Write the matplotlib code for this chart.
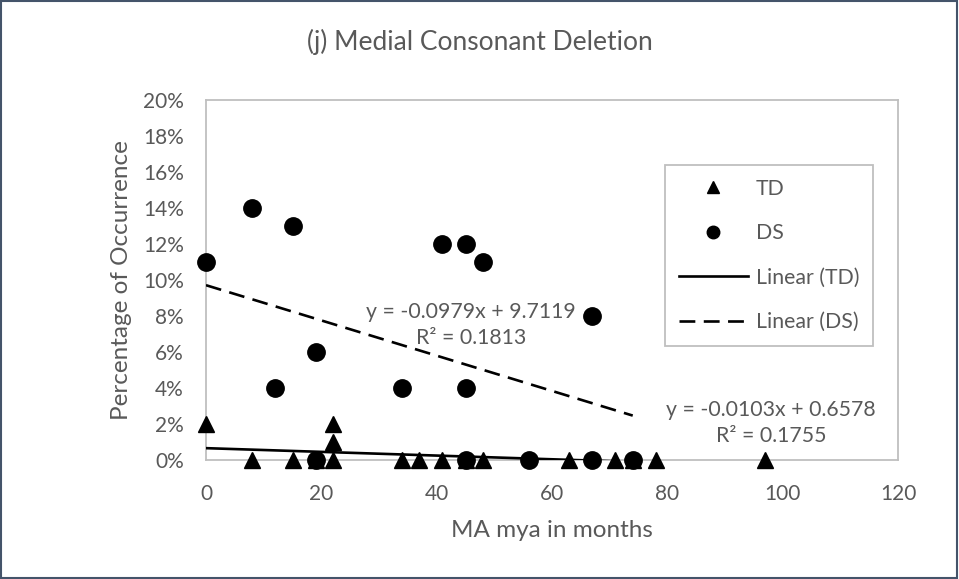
import numpy as np
import matplotlib
matplotlib.use("Agg")
import matplotlib.pyplot as plt
from matplotlib.lines import Line2D
from matplotlib.patches import Rectangle

plt.rcParams['font.family'] = ['Lato', 'DejaVu Sans']

# age in months vs. % occurrence, per group
td_x = [0, 8, 15, 19, 22, 22, 22, 34, 37, 41, 45, 48, 63, 71, 74, 78, 97]
td_y = [2, 0, 0, 0, 2, 1, 0, 0, 0, 0, 0, 0, 0, 0, 0, 0, 0]
ds_x = [0, 8, 15, 41, 45, 48, 19, 12, 34, 45, 19, 45, 67, 56, 67, 74]
ds_y = [11, 14, 13, 12, 12, 11, 6, 4, 4, 4, 0, 0, 8, 0, 0, 0]

# excel trendline fits: slope, intercept, r2
td_fit = [-0.0103, 0.6578, 0.1755]
ds_fit = [-0.0979, 9.7119, 0.1813]

txt = '#595959'
grid = '#BFBFBF'
dash = (6, 3.2)

fig = plt.figure(figsize=(9.59, 5.79), dpi=100)
ax = fig.add_axes([206/959, 1-460/579, (898-206)/959, (460-100)/579])

ax.plot(td_x, td_y, linestyle='none', marker='^', ms=12, color='black', zorder=4, clip_on=False)
ax.plot(ds_x, ds_y, linestyle='none', marker='o', ms=12.5, color='black', zorder=4, clip_on=False)

# trend lines over each series' x range
xt = np.array([min(td_x), max(td_x)])
ax.plot(xt, td_fit[0]*xt + td_fit[1], color='black', lw=1.9, zorder=3)
xd = np.array([min(ds_x), max(ds_x)])
ax.plot(xd, ds_fit[0]*xd + ds_fit[1], color='black', lw=1.9, dashes=dash, zorder=3)

ax.set_xlim(0, 120)
ax.set_ylim(0, 20)
ax.set_xticks(range(0, 121, 20))
ax.set_yticks(range(0, 21, 2))
ax.set_yticklabels(['%d%%' % v for v in range(0, 21, 2)])
ax.tick_params(length=0, labelsize=15, colors=txt)
ax.tick_params(axis='y', pad=16)
ax.tick_params(axis='x', pad=17)
for s in ax.spines.values():
    s.set_color(grid)
    s.set_linewidth(1.3)

ax.set_xlabel('MA mya in months', fontsize=17.5, color=txt, labelpad=12)
ax.set_ylabel('Percentage of Occurrence', fontsize=17.5, color=txt, labelpad=8)
fig.text(0.5, 1-42/579, '(j) Medial Consonant Deletion', ha='center', va='center',
         fontsize=19, color=txt)

ax.text(46, 7.5, 'y = %.4fx + %.4f\nR² = %.4f' % tuple(ds_fit), ha='center', va='center',
        fontsize=15.3, color=txt, linespacing=1.42)
ax.text(98, 2.05, 'y = %.4fx + %.4f\nR² = %.4f' % tuple(td_fit), ha='center', va='center',
        fontsize=15.3, color=txt, linespacing=1.42)

handles = [
    Line2D([], [], linestyle='none', marker='^', ms=9, color='black'),
    Line2D([], [], linestyle='none', marker='o', ms=9, color='black'),
    Line2D([], [], color='black', lw=1.9),
    Line2D([], [], color='black', lw=1.9, dashes=dash),
]
leg = fig.legend(handles, ['TD', 'DS', 'Linear (TD)', 'Linear (DS)'],
                 loc='upper left', bbox_to_anchor=(665/959, 1-165/579),
                 borderaxespad=0, fontsize=15.3, labelcolor=txt, fancybox=False,
                 edgecolor=grid, framealpha=1, handlelength=3.25, labelspacing=1.15,
                 handletextpad=0.38, borderpad=0.65)
leg.get_frame().set_linewidth(1.3)

fig.patches.append(Rectangle((0.001, 0.002), 0.997, 0.996, transform=fig.transFigure,
                             fill=False, edgecolor='#44546A', lw=1.5))

fig.savefig('out.png', dpi=100)
